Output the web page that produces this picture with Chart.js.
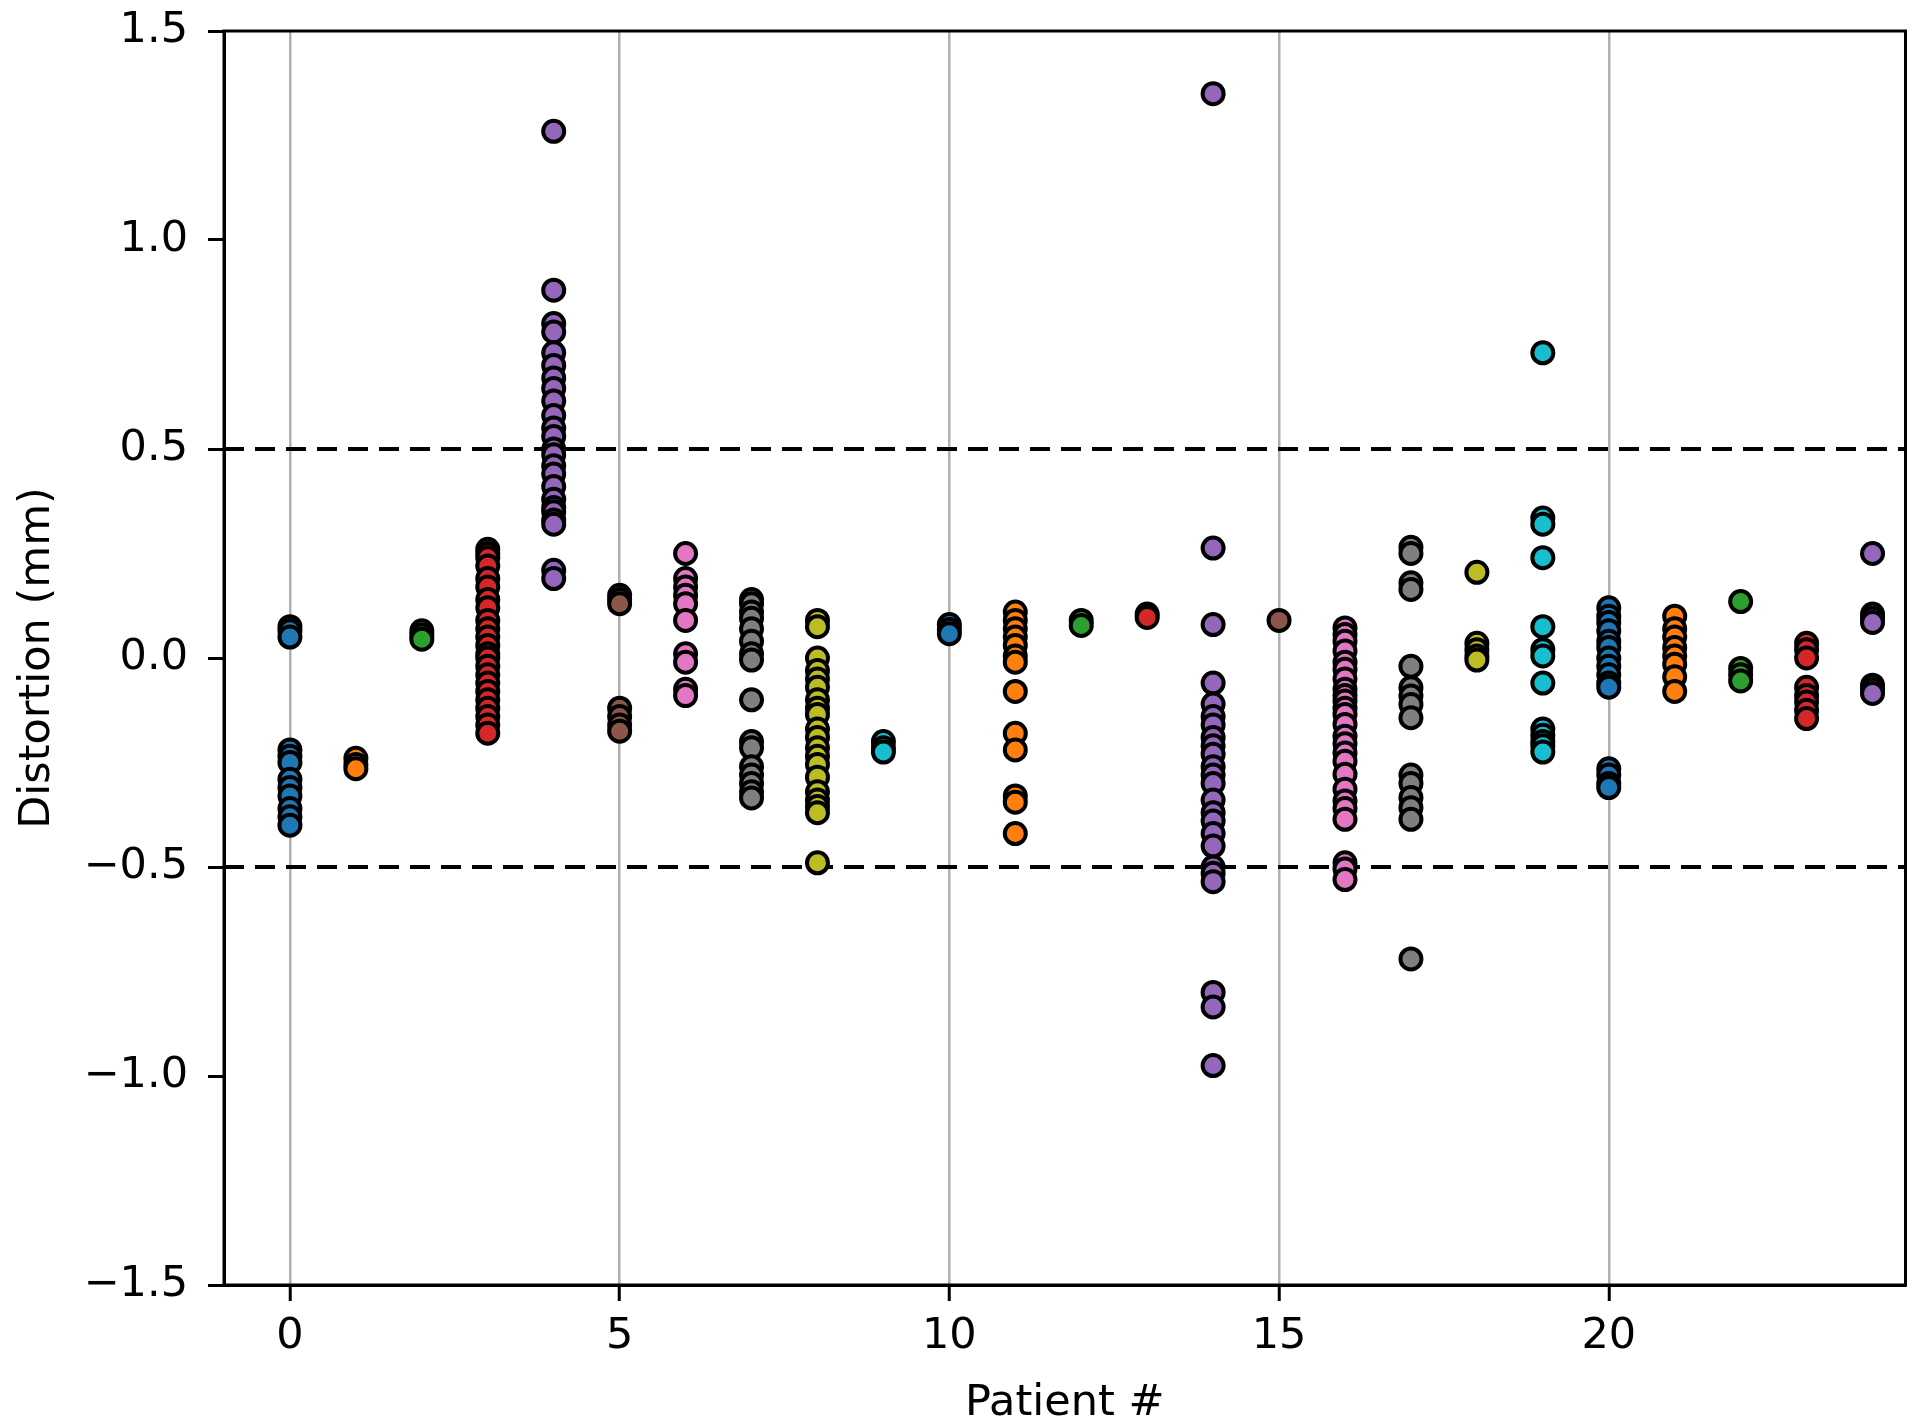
<!DOCTYPE html>
<html>
<head>
<meta charset="utf-8">
<script src="https://cdn.jsdelivr.net/npm/chart.js@4.4.0/dist/chart.umd.min.js"></script>
<style>
  body { margin: 0; background: #ffffff; }
</style>
</head>
<body>
<canvas id="distortionChart" width="1920" height="1426"></canvas>
<script>
// patient numbers on the x axis
const patients = [0, 1, 2, 3, 4, 5, 6, 7, 8, 9, 10, 11, 12, 13, 14, 15, 16, 17, 18, 19, 20, 21, 22, 23, 24];

// distortion values (mm) read for each patient, same order as patients
const distortion = [
  [0.075, 0.065, 0.05, -0.22, -0.235, -0.25, -0.29, -0.31, -0.33, -0.36, -0.38, -0.40],
  [-0.24, -0.255, -0.265],
  [0.065, 0.055, 0.045],
  [0.26, 0.25, 0.24, 0.22, 0.19, 0.17, 0.14, 0.12, 0.09, 0.07, 0.05, 0.03, 0.01, 0.0, -0.02, -0.04, -0.06, -0.08, -0.10, -0.12, -0.14, -0.16, -0.18],
  [1.26, 0.88, 0.80, 0.78, 0.73, 0.70, 0.67, 0.645, 0.615, 0.58, 0.55, 0.53, 0.50, 0.486, 0.46, 0.44, 0.41, 0.38, 0.36, 0.35, 0.33, 0.32, 0.21, 0.19],
  [0.15, 0.14, 0.13, -0.12, -0.14, -0.16, -0.175],
  [0.25, 0.19, 0.17, 0.15, 0.13, 0.09, 0.01, -0.01, -0.075, -0.09],
  [0.14, 0.13, 0.11, 0.095, 0.07, 0.04, 0.01, -0.005, -0.10, -0.20, -0.215, -0.26, -0.28, -0.30, -0.32, -0.335],
  [0.09, 0.075, 0.0, -0.03, -0.05, -0.07, -0.10, -0.12, -0.135, -0.17, -0.19, -0.215, -0.235, -0.255, -0.285, -0.32, -0.34, -0.355, -0.37, -0.49],
  [-0.2, -0.215, -0.225],
  [0.08, 0.068, 0.058],
  [0.11, 0.09, 0.07, 0.05, 0.03, 0.005, -0.01, -0.08, -0.18, -0.22, -0.33, -0.345, -0.42],
  [0.09, 0.078],
  [0.105, 0.097],
  [1.35, 0.263, 0.08, -0.06, -0.11, -0.14, -0.16, -0.19, -0.21, -0.23, -0.26, -0.28, -0.30, -0.34, -0.37, -0.39, -0.42, -0.45, -0.50, -0.515, -0.535, -0.80, -0.835, -0.975],
  [0.09],
  [0.072, 0.056, 0.04, 0.017, -0.01, -0.027, -0.05, -0.075, -0.09, -0.103, -0.12, -0.135, -0.159, -0.187, -0.205, -0.227, -0.247, -0.278, -0.314, -0.342, -0.36, -0.386, -0.49, -0.505, -0.53],
  [0.265, 0.25, 0.18, 0.164, -0.02, -0.071, -0.091, -0.111, -0.143, -0.28, -0.30, -0.334, -0.358, -0.386, -0.72],
  [0.205, 0.035, 0.02, 0.005, -0.005],
  [0.73, 0.335, 0.32, 0.24, 0.075, 0.02, 0.005, -0.06, -0.17, -0.185, -0.2, -0.21, -0.225],
  [0.12, 0.10, 0.085, 0.065, 0.04, 0.025, 0.0, -0.02, -0.04, -0.06, -0.07, -0.265, -0.28, -0.30, -0.31],
  [0.10, 0.07, 0.05, 0.025, 0.005, -0.015, -0.045, -0.08],
  [0.135, -0.025, -0.04, -0.055],
  [0.035, 0.02, 0.0, -0.07, -0.09, -0.105, -0.125, -0.145],
  [0.25, 0.105, 0.095, 0.085, -0.065, -0.075, -0.085]
];

// tolerance lines
const thresholds = [0.5, -0.5];

// axis ticks
const xTicks = [0, 5, 10, 15, 20];
const yTicks = [-1.5, -1.0, -0.5, 0.0, 0.5, 1.0, 1.5];
const yTickLabels = ["\u22121.5", "\u22121.0", "\u22120.5", "0.0", "0.5", "1.0", "1.5"];

// matplotlib tab10 cycle
const palette = ["#1f77b4", "#ff7f0e", "#2ca02c", "#d62728", "#9467bd",
                 "#8c564b", "#e377c2", "#7f7f7f", "#bcbd22", "#17becf"];

const xMin = -1;
const xMax = 24.5;

// build datasets
let datasets = [];

patients.forEach(function (p, i) {
  datasets.push({
    type: "scatter",
    data: distortion[i].map(function (v) { return { x: p, y: v }; }),
    backgroundColor: palette[i % palette.length],
    borderColor: "#000000",
    borderWidth: 4,
    pointRadius: 10.5,
    pointHoverRadius: 10.5,
    order: 0,
  });
});

thresholds.forEach(function (t) {
  datasets.push({
    type: "line",
    data: [{ x: xMin, y: t }, { x: xMax, y: t }],
    borderColor: "#000000",
    borderWidth: 4,
    borderDash: [20, 11],
    pointRadius: 0,
    fill: false,
    order: 1,
  });
});

// top and right spines
const framePlugin = {
  id: "frame",
  afterDraw(chart) {
    const a = chart.chartArea;
    const ctx = chart.ctx;
    ctx.save();
    ctx.strokeStyle = "#000000";
    ctx.lineWidth = 3;
    ctx.strokeRect(a.left, a.top, a.right - a.left, a.bottom - a.top);
    ctx.restore();
  },
};

const font = { family: "'DejaVu Sans'", size: 43 };

let myChart = document.getElementById("distortionChart").getContext("2d");
let chart = new Chart(myChart, {
  type: "scatter",
  data: { datasets: datasets },
  options: {
    responsive: false,
    animation: false,
    layout: {
      padding: { top: 31, right: 14, left: 0, bottom: -4 },
    },
    plugins: {
      legend: { display: false },
      tooltip: { enabled: false },
    },
    scales: {
      x: {
        type: "linear",
        min: xMin,
        max: xMax,
        afterBuildTicks: function (scale) {
          scale.ticks = xTicks.map(function (v) { return { value: v }; });
        },
        afterFit: function (scale) {
          scale.height = 145;
          scale.paddingLeft = 0;
          scale.paddingRight = 0;
        },
        ticks: {
          color: "#000000",
          font: font,
          padding: 10,
          maxRotation: 0,
          callback: function (v) { return String(v); },
        },
        grid: {
          color: "#b0b0b0",
          lineWidth: 2.5,
          tickColor: "#000000",
          tickLength: 16,
          tickWidth: 3,
        },
        border: { color: "#000000", width: 3 },
        title: {
          display: true,
          text: "Patient #",
          color: "#000000",
          font: font,
          padding: { top: 0, bottom: 0 },
        },
      },
      y: {
        type: "linear",
        min: -1.5,
        max: 1.5,
        afterBuildTicks: function (scale) {
          scale.ticks = yTicks.map(function (v) { return { value: v }; });
        },
        afterFit: function (scale) {
          scale.width = 224;
          scale.paddingTop = 0;
          scale.paddingBottom = 0;
        },
        ticks: {
          color: "#000000",
          font: font,
          padding: 20,
          callback: function (v) {
            let k = yTicks.indexOf(v);
            return k >= 0 ? yTickLabels[k] : "";
          },
        },
        grid: {
          drawOnChartArea: false,
          tickColor: "#000000",
          tickLength: 16,
          tickWidth: 3,
        },
        border: { color: "#000000", width: 3 },
        title: {
          display: true,
          text: "Distortion (mm)",
          color: "#000000",
          font: font,
          padding: { top: 12, bottom: 0 },
        },
      },
    },
  },
  plugins: [framePlugin],
});
</script>
</body>
</html>
